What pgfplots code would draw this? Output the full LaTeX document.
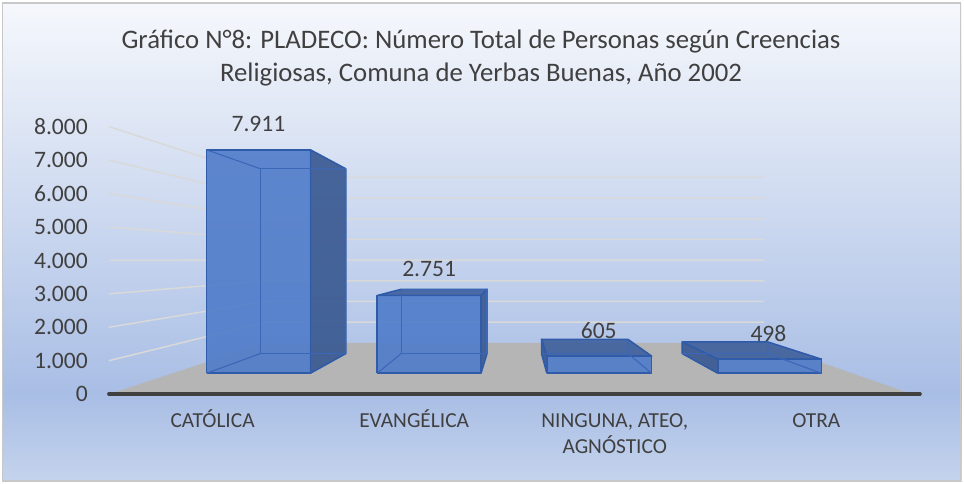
\documentclass[border=0pt]{standalone}
\usepackage{pgfplots}
\pgfplotsset{compat=1.18}
\usepackage{fontspec}
\setmainfont{Carlito}
\definecolor{bgtop}{HTML}{F6F8FC}
\definecolor{bgmid}{HTML}{A9BEE5}
\definecolor{bgbot}{HTML}{C5D4ED}
\definecolor{txt}{HTML}{404040}
\definecolor{grid}{HTML}{D9D9D9}
\definecolor{floorc}{HTML}{B5B5B5}
\definecolor{edge}{HTML}{2F5BA8}
\definecolor{front}{HTML}{4F7CC9}
\definecolor{side}{HTML}{3A5A92}
\definecolor{topf}{HTML}{3F609E}
\definecolor{innerc}{HTML}{3A67B8}
\definecolor{frame}{HTML}{C8C8C8}
\pgfdeclareverticalshading{chartbg}{100bp}{color(0bp)=(bgbot); color(25bp)=(bgbot); color(34.2bp)=(bgmid); color(75bp)=(bgtop); color(100bp)=(bgtop)}
% depth d: 0 = front plane of the bars, 1 = their back plane
\newcommand\Y{(394-(373-19.7*\thisrow{d}-\thisrow{v}*(0.0283-0.0049*\thisrow{d})))/0.0335}
\newcommand\face[2]{\addplot[#1] table[x=x,y expr=\Y,row sep=\\]{x v d\\ #2};}
\newcommand\st{\rule{0pt}{18pt}}
\tikzset{
  fc/.style={draw=edge,line width=1.6pt,fill=front,fill opacity=.9,line join=round},
  sd/.style={draw=edge,line width=1.6pt,fill=side,fill opacity=.92,line join=round},
  tp/.style={draw=edge,line width=1.6pt,fill=topf,fill opacity=.9,line join=round},
  inn/.style={draw=innerc,line width=1.1pt,fill=none},
  gl/.style={draw=grid,line width=1.5pt}
}
\begin{document}
\begin{tikzpicture}
\begin{axis}[
  scale only axis, width=964pt, height=483pt,
  xmin=0, xmax=964,
  ymin=-2656.7164, ymax=11761.194,
  axis line style={draw=none}, tick style={draw=none},
  axis background/.style={shading=chartbg},
  clip=false,
  scaled y ticks=false,
  ytick={0,1000,2000,3000,4000,5000,6000,7000,8000},
  /pgf/number format/.cd, assume math mode=true, fixed, precision=0, 1000 sep={.},
  /pgfplots/.cd,
  yticklabel style={font=\fontsize{23.6}{24}\selectfont, text=txt, anchor=east, xshift=90.5pt},
  xtick={212,414,615,817},
  xticklabels={{\st CATÓLICA\\\phantom{X}},{\st EVANGÉLICA\\\phantom{X}},{\st NINGUNA, ATEO,\\AGNÓSTICO},{\st OTRA\\\phantom{X}}},
  xticklabel style={font=\fontsize{21.4}{25.7}\selectfont, text=txt, align=center, anchor=north, yshift=77pt},
]
% left wall and back wall gridlines
\foreach \k in {1000,2000,3000,4000,5000,6000,7000,8000}{
  \edef\temp{\noexpand\face{gl}{108 \k\space -1.066\noexpand\\ 265 \k\space 1.548\noexpand\\ 765 \k\space 1.548\noexpand\\}}
  \temp
}
% floor
\face{fill=floorc,draw=none}{108 0 -1.066\\ 265 0 1.548\\ 765 0 1.548\\ 913 0 -1.066\\ 108 0 -1.066\\}
% CATOLICA
\face{sd}{310 0 0\\ 310 7911 0\\ 345.5 7911 1\\ 345.5 0 1\\ 310 0 0\\}
\face{fc}{206 0 0\\ 206 7911 0\\ 310 7911 0\\ 310 0 0\\ 206 0 0\\}
\face{inn}{260 0 1\\ 260 7911 1\\ 345.5 7911 1\\ 345.5 0 1\\ 260 0 1\\}
\face{inn}{206 0 0\\ 260 0 1\\}
\face{inn}{206 7911 0\\ 260 7911 1\\}
% EVANGELICA
\face{tp}{377 2751 0\\ 401 2751 1\\ 487 2751 1\\ 481 2751 0\\ 377 2751 0\\}
\face{sd}{481 0 0\\ 481 2751 0\\ 487 2751 1\\ 487 0 1\\ 481 0 0\\}
\face{fc}{377 0 0\\ 377 2751 0\\ 481 2751 0\\ 481 0 0\\ 377 0 0\\}
\face{inn}{401 0 1\\ 401 2751 1\\ 487 2751 1\\ 487 0 1\\ 401 0 1\\}
\face{inn}{377 0 0\\ 401 0 1\\}
% NINGUNA
\face{sd}{547 0 0\\ 547 605 0\\ 541.7 605 1\\ 541.7 0 1\\ 547 0 0\\}
\face{tp}{547 605 0\\ 541.7 605 1\\ 628.3 605 1\\ 652 605 0\\ 547 605 0\\}
\face{fc}{547 0 0\\ 547 605 0\\ 652 605 0\\ 652 0 0\\ 547 0 0\\}
\face{inn}{628.3 605 1\\ 628.3 0 1\\ 652 0 0\\}
\face{inn}{541.7 0 1\\ 628.3 0 1\\}
% OTRA
\face{sd}{718.3 0 0\\ 718.3 498 0\\ 682.7 498 1\\ 682.7 0 1\\ 718.3 0 0\\}
\face{tp}{718.3 498 0\\ 682.7 498 1\\ 768.3 498 1\\ 822 498 0\\ 718.3 498 0\\}
\face{fc}{718.3 0 0\\ 718.3 498 0\\ 822 498 0\\ 822 0 0\\ 718.3 0 0\\}
\face{inn}{768.3 498 1\\ 768.3 0 1\\ 822 0 0\\}
\face{inn}{682.7 0 1\\ 768.3 0 1\\}
% category axis line
\addplot[draw=txt,line width=3.4pt,line cap=round] coordinates {(108,0)(921,0)};
% data labels
\addplot[draw=none,mark=none,nodes near coords,point meta=explicit symbolic,
  nodes near coords style={anchor=center,text=txt,font=\fontsize{23.6}{24}\selectfont}]
  table[x=x,y expr=(394-\thisrow{py})/0.0335,meta=l,row sep=\\]{x py l\\ 258 123.5 7.911\\ 429 269 2.751\\ 599 330 605\\ 769 333 498\\};
\end{axis}
\draw[white,line width=2pt] (0,0) rectangle (964pt,483pt);
\draw[frame,line width=1.6pt] (1.5pt,2pt) rectangle (961.5pt,481pt);
\node[align=center,font=\fontsize{26.8}{33}\selectfont,text=txt] at (481pt,{483pt-57.5pt})
  {Gráfico N°8: PLADECO: Número Total de Personas según Creencias\\Religiosas, Comuna de Yerbas Buenas, Año 2002};
\end{tikzpicture}
\end{document}
